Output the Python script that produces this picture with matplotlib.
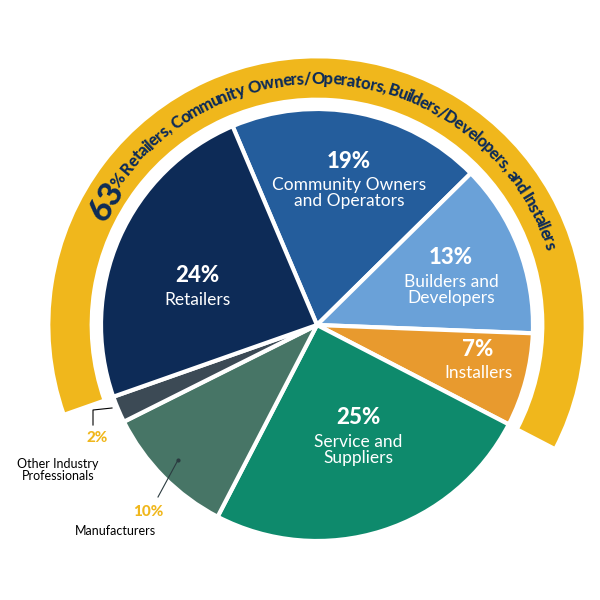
import numpy as np
import matplotlib.pyplot as plt
from matplotlib.patches import Wedge
from matplotlib.textpath import TextPath
from matplotlib.font_manager import FontProperties

plt.rcParams['font.family'] = ['Lato', 'DejaVu Sans']

# data, clockwise from the top boundary
categories = ['Community Owners\nand Operators', 'Builders and\nDevelopers', 'Installers',
              'Service and\nSuppliers', 'Manufacturers', 'Other Industry\nProfessionals', 'Retailers']
shares = [19, 13, 7, 25, 10, 2, 24]
colors = ['#245d9c', '#6aa1d8', '#e89a2e', '#0e8a6c', '#477566', '#3c4a55', '#0d2b57']
ring_members = ['Retailers', 'Community Owners\nand Operators', 'Builders and\nDevelopers', 'Installers']
ring_text = ' Retailers, Community Owners/Operators, Builders/Developers, and Installers'

navy = '#0d2b57'
gold = '#f0b71c'
cx, cy, R = 317, 275, 216

fig = plt.figure(figsize=(6, 6), dpi=100)
ax = fig.add_axes([0, 0, 1, 1])

start = 113
wedges, _ = ax.pie(shares, colors=colors, startangle=start, counterclock=False,
                   center=(cx, cy), radius=R, frame=True,
                   wedgeprops=dict(edgecolor='white', linewidth=3))
ax.set_xlim(0, 600)
ax.set_ylim(0, 600)
ax.set_aspect('equal')
ax.axis('off')

# ring over the 63% group
ring_share = sum(s for c, s in zip(categories, shares) if c in ring_members)
ring_start = start + shares[-1] * 3.6
ring_end = ring_start - ring_share * 3.6
ax.add_patch(Wedge((cx, cy), 268, ring_end, ring_start, width=42, facecolor=gold,
                   edgecolor='white', linewidth=2))

# curved text along the ring
r_text = 246
fp_norm = FontProperties(family='Lato', weight='black', size=12)
fp_big = FontProperties(family='Lato', weight='black', size=24)
chars = [('6', fp_big), ('3', fp_big), ('%', fp_norm)] + [(ch, fp_norm) for ch in ring_text]
px = 100 / 72
widths = []
for ch, fp in chars:
    if ch == ' ':
        w = TextPath((0, 0), 'a a', prop=fp).get_extents().width - TextPath((0, 0), 'aa', prop=fp).get_extents().width
    else:
        w = TextPath((0, 0), ch, prop=fp).get_extents().width
        w += fp.get_size() * 0.03
    widths.append(w * px)
total = sum(widths)
mid = (ring_start + ring_end) / 2
a0 = np.radians(mid) + total / 2 / r_text
acc = 0
for (ch, fp), w in zip(chars, widths):
    ang = a0 - (acc + w / 2) / r_text
    acc += w
    rr = r_text - (2 if fp is fp_big else 0)
    ax.text(cx + rr * np.cos(ang), cy + rr * np.sin(ang), ch, fontproperties=fp,
            color=navy, rotation=np.degrees(ang) - 90, ha='center', va='center',
            rotation_mode='anchor')

# labels inside slices
inside = {
    'Retailers': (197, 310),
    'Community Owners\nand Operators': (349, 425),
    'Builders and\nDevelopers': (451, 328),
    'Installers': (478, 237),
    'Service and\nSuppliers': (358, 168),
}
for c, s in zip(categories, shares):
    if c in inside:
        x, y = inside[c]
        ax.text(x, y + 14, f'{s}%', color='white', fontsize=16, fontweight='black',
                ha='center', va='center')
        ax.text(x, y - 10 - (8 if '\n' in c else 0), c, color='white', fontsize=12.5,
                ha='center', va='center', linespacing=1.0)

# outside labels
ax.text(97, 162, f'{shares[5]}%', color=gold, fontsize=11, fontweight='black', ha='center', va='center')
ax.text(58, 130, categories[5], color='black', fontsize=9, ha='center', va='center', linespacing=1.1)
ax.plot([112, 93, 93], [192, 190, 175], color='black', linewidth=0.8)
ax.text(148, 88, f'{shares[4]}%', color=gold, fontsize=11, fontweight='black', ha='center', va='center')
ax.text(115, 69, categories[4], color='black', fontsize=9, ha='center', va='center')
ax.plot([178, 158], [140, 103], color='#2b3b40', linewidth=0.8)
ax.plot([178], [140], 'o', color='#2b3b40', markersize=2)

fig.savefig('out.png', dpi=100)
